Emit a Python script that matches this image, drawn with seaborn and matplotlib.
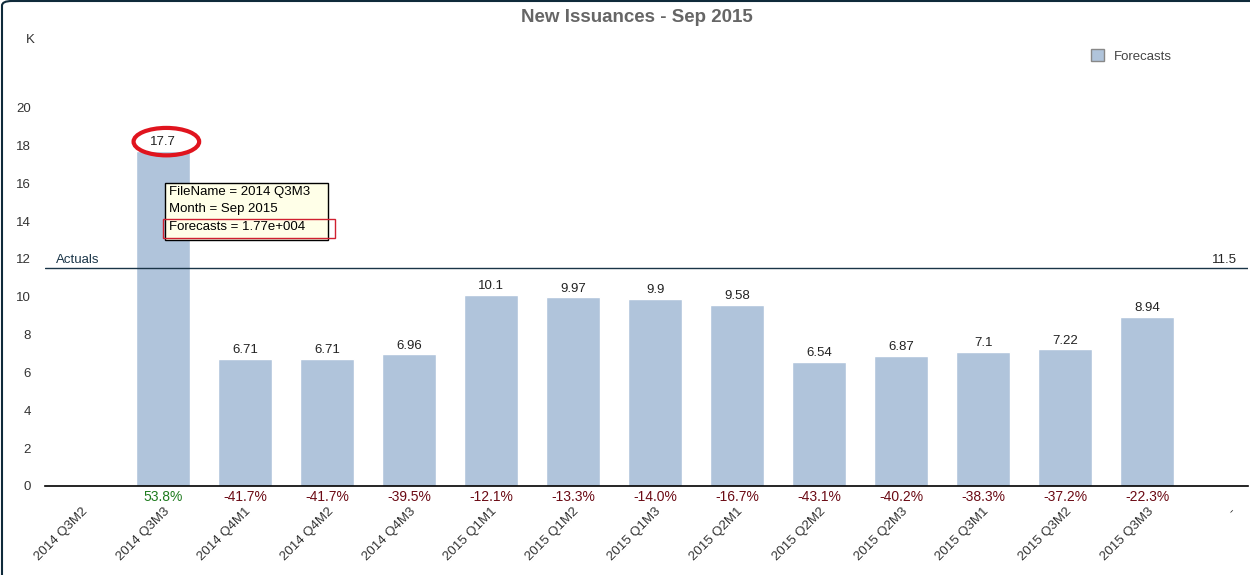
import matplotlib
matplotlib.use("Agg")
import matplotlib.pyplot as plt
import seaborn as sns
import pandas as pd
from matplotlib.patches import Ellipse, Rectangle, FancyBboxPatch

categories = ["2014 Q3M2", "2014 Q3M3", "2014 Q4M1", "2014 Q4M2", "2014 Q4M3",
              "2015 Q1M1", "2015 Q1M2", "2015 Q1M3", "2015 Q2M1", "2015 Q2M2",
              "2015 Q2M3", "2015 Q3M1", "2015 Q3M2", "2015 Q3M3", "-"]
bar_categories = categories[1:14]
forecasts = [17.7, 6.71, 6.71, 6.96, 10.1, 9.97, 9.9, 9.58, 6.54, 6.87, 7.1, 7.22, 8.94]
value_labels = ["17.7", "6.71", "6.71", "6.96", "10.1", "9.97", "9.9", "9.58",
                "6.54", "6.87", "7.1", "7.22", "8.94"]
pct_changes = [53.8, -41.7, -41.7, -39.5, -12.1, -13.3, -14.0, -16.7,
               -43.1, -40.2, -38.3, -37.2, -22.3]
actuals = 11.5
y_ticks = [0, 2, 4, 6, 8, 10, 12, 14, 16, 18, 20]
tooltip_lines = ["FileName = 2014 Q3M3", "Month = Sep 2015", "Forecasts = 1.77e+004"]

sns.set_theme(style="white")
plt.rcParams['font.family'] = ['Liberation Sans', 'DejaVu Sans']

df = pd.DataFrame({"FileName": bar_categories, "Forecasts": forecasts})

fig = plt.figure(figsize=(12.5, 5.75), dpi=100)
ax = fig.add_axes([45/1250, 89/575, 1203/1250, 456/575])

bar_color = "#B0C4DB"
sns.barplot(data=df, x="FileName", y="Forecasts", order=categories,
            color=bar_color, saturation=1, width=0.66, ax=ax, label="Forecasts")

ax.set_xlim(-0.44, 14.23)
ax.set_ylim(0, 24.1)
for s in ["top", "right", "left"]:
    ax.spines[s].set_visible(False)
ax.spines["bottom"].set_color("black")
ax.spines["bottom"].set_linewidth(1.2)
ax.set_xlabel("")
ax.set_ylabel("")
ax.set_yticks(y_ticks)
ax.set_yticklabels([str(t) for t in y_ticks], fontsize=9.5, color="#333333")
ax.tick_params(axis="y", length=2, color="#DDDDDD", pad=8)
ax.tick_params(axis="x", length=0, pad=14)
ax.set_xticks(range(len(categories)))
ax.set_xticklabels(categories, rotation=45, ha="right", rotation_mode="anchor",
                   fontsize=9.5, color="#333333")

# value labels above bars and percent labels below
for i, (v, lab, p) in enumerate(zip(forecasts, value_labels, pct_changes)):
    x = categories.index(bar_categories[i])
    ax.annotate(lab, (x, v), xytext=(0, 2), textcoords="offset points",
                ha="center", va="bottom", fontsize=9.5, color="#222222")
    col = "#1E7B1E" if p >= 0 else "#6B0A14"
    ax.annotate(f"{p:.1f}%", (x, 0), xytext=(0, -3), textcoords="offset points",
                ha="center", va="top", fontsize=10, color=col)

# Actuals reference line
ax.axhline(actuals, color="#1A3548", lw=1)
ax.annotate("Actuals", (0, actuals), xycoords=("axes fraction", "data"),
            xytext=(8, 2), textcoords="offset points", ha="left", va="bottom",
            fontsize=9.5, color="#1A3548")
ax.annotate(f"{actuals}", (1, actuals), xycoords=("axes fraction", "data"),
            xytext=(-8, 2), textcoords="offset points", ha="right", va="bottom",
            fontsize=9.5, color="#222222")

# red ellipse highlight
ax.add_patch(Ellipse((1.04, 18.2), 0.8, 1.45, fill=False, ec="#E0141E", lw=3, zorder=5))

# tooltip
ax.add_patch(Rectangle((1.024, 13.02), 1.99, 3.01, fc="#FFFFE8", ec="black", lw=1, zorder=6))
for k, line in enumerate(tooltip_lines):
    ax.text(1.07, 15.55 - k * 0.92, line, fontsize=9.5, color="black", va="center",
            ha="left", zorder=7)
ax.add_patch(Rectangle((1.0, 13.12), 2.1, 1.01, fill=False, ec="#D02030", lw=1, zorder=7))

# legend
leg = ax.legend(loc="upper right", bbox_to_anchor=(0.947, 0.985), frameon=False,
                fontsize=9.5, handlelength=1.0, handleheight=1.1)
for h in leg.legend_handles:
    h.set_edgecolor("#888888")
    h.set_linewidth(1)
for t in leg.get_texts():
    t.set_color("#444444")

fig.text(30/1250, 1 - 40/575, "K", fontsize=9.5, color="#333333", ha="center", va="center")
fig.text(637/1250, 1 - 17/575, "New Issuances - Sep 2015", fontsize=13.5, fontweight="bold",
         color="#666666", ha="center", va="center")

# figure frame
fig.patches.append(FancyBboxPatch((2/1250, -0.1), 1.2, 1 - 1/575 + 0.1,
                                  boxstyle="round,pad=0,rounding_size=0.008",
                                  transform=fig.transFigure, fill=False,
                                  ec="#0F2A3A", lw=1.5))

fig.savefig("out.png", dpi=100)
